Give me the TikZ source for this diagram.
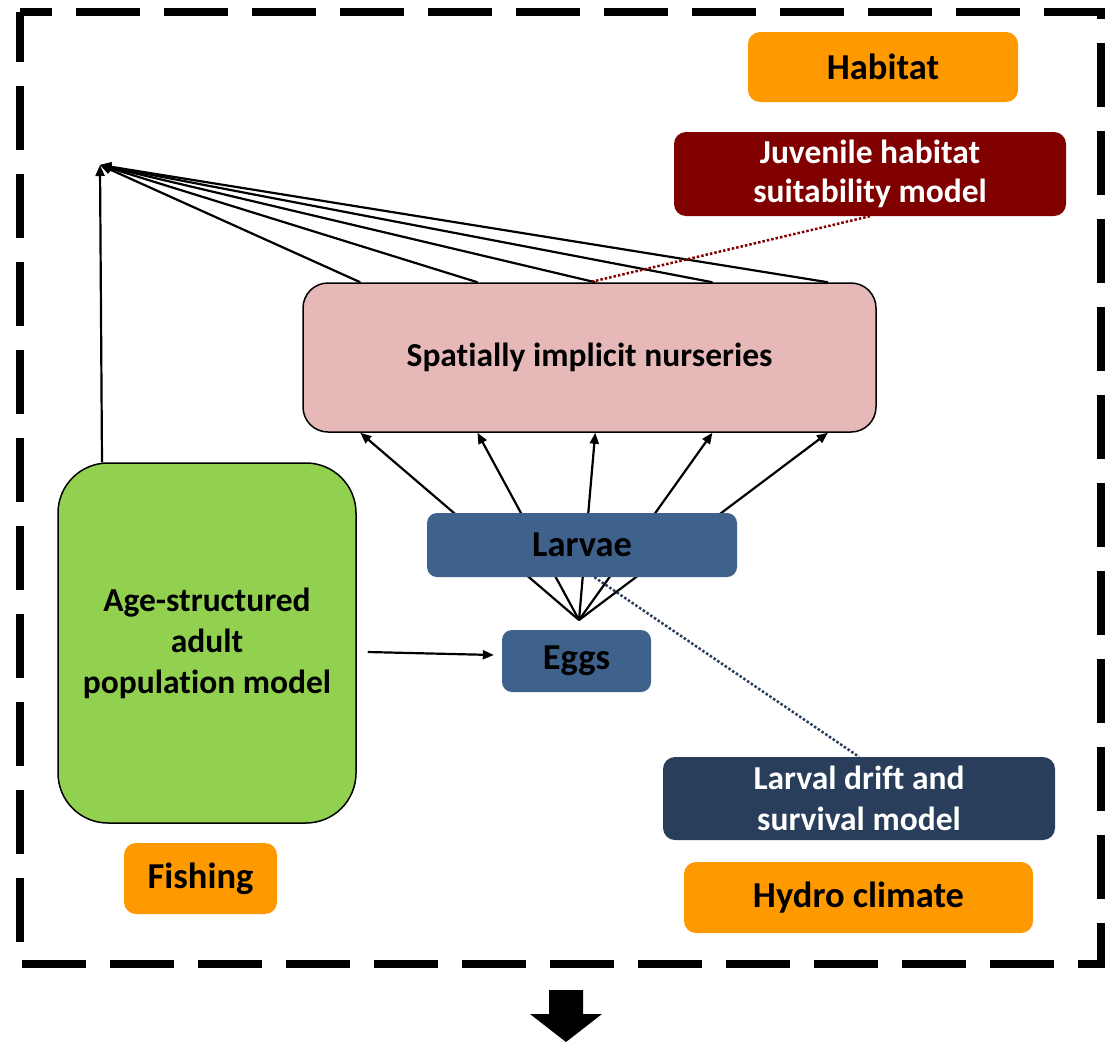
\documentclass[tikz,border=0pt]{standalone}
\usepackage{fontspec}
\setmainfont{Carlito}[Ligatures={NoCommon}]
\usetikzlibrary{arrows.meta,calc}
\definecolor{orangeC}{RGB}{255,153,0}
\definecolor{juvC}{RGB}{128,0,0}
\definecolor{nursC}{RGB}{230,185,184}
\definecolor{larvC}{RGB}{62,98,140}
\definecolor{driftC}{RGB}{41,62,90}
\definecolor{adultC}{RGB}{146,208,80}
\tikzset{
  box/.style={rectangle, rounded corners=12pt, inner sep=0pt, align=center,
     font=\fontsize{33.5}{41}\selectfont\bfseries},
  orangebox/.style={box, fill=orangeC, font=\fontsize{36.5}{43}\selectfont\bfseries},
  bluebox/.style={box, rounded corners=10pt, fill=larvC, font=\fontsize{36.5}{43}\selectfont\bfseries},
  darkbox/.style={box, text=white},
  conn/.style={line width=2.2pt},
  arr/.style={conn, -{Triangle[length=11pt,width=9pt]}},
  dots/.style={line width=2.5pt, dash pattern=on 2.5pt off 2pt},
}
\begin{document}
\begin{tikzpicture}[x=1pt,y=-1pt]
\useasboundingbox (0,0) rectangle (1105,1042);
% frame
\draw[line width=8pt, dash pattern=on 64pt off 24pt, dash phase=32pt, line join=miter]
  (20,12) -- (1101,12) -- (1101,964) -- (20,964) -- cycle;
% coordinates
\coordinate (apex) at (100,165);
\coordinate (fan) at (579,620);
% nodes
\node[orangebox, minimum width=270pt, minimum height=70pt] (hab) at (883,67) {Habitat};
\node[darkbox, fill=juvC, minimum width=392pt, minimum height=84pt] (juv) at (870,174) {\raisebox{-2pt}{Juvenile habitat}\\suitability model};
\node[box, rounded corners=25pt, fill=nursC, draw=black, line width=1.5pt, minimum width=573pt, minimum height=149pt] (nurs) at (589.5,357.5) {Spatially implicit nurseries};
\node[box, rounded corners=50pt, fill=adultC, draw=black, line width=1.5pt, minimum width=298pt, minimum height=360pt] (adult) at (207,643) {Age-structured\\adult\\population model};
\node[orangebox, minimum width=153pt, minimum height=71pt] (fish) at (200.5,878.5) {Fishing};
\node[darkbox, fill=driftC, minimum width=392pt, minimum height=83pt] (drift) at (859,798.5) {Larval drift and\\survival model};
\node[orangebox, minimum width=349pt, minimum height=71pt] (hydro) at (858.5,897.5) {Hydro climate};
% fan lines (behind larvae)
\foreach \f in {0.101,0.305,0.51,0.714,0.915}{
  \draw[arr] (fan) -- ($(nurs.south west)!\f!(nurs.south east)$);
}
\node[bluebox, minimum width=310pt, minimum height=64pt] (larv) at (582,545) {Larvae};
\node[bluebox, minimum width=149pt, minimum height=62pt] (eggs) at (576.5,661) {Eggs};
% top lines to apex
\foreach \f in {0.101,0.305,0.51,0.714,0.915}{
  \draw[arr] ($(nurs.north west)!\f!(nurs.north east)$) -- (apex);
}
\draw[arr] ([xshift=-105pt]adult.north) -- (apex);
% adult to eggs
\draw[arr] ([xshift=11pt,yshift=-9pt]adult.east) -- ([xshift=-8pt,yshift=6pt]eggs.west);
% dotted links
\draw[dots, draw=juvC] (juv.south) -- ($(nurs.north west)!0.5!(nurs.north east)$);
\draw[dots, draw=driftC] ($(larv.south west)!0.54!(larv.south east)$) -- (drift.north);
% bottom block arrow
\fill[black] (549,990) -- (583,990) -- (583,1014) -- (602,1014) -- (566,1042) -- (530,1014) -- (549,1014) -- cycle;
\end{tikzpicture}
\end{document}
